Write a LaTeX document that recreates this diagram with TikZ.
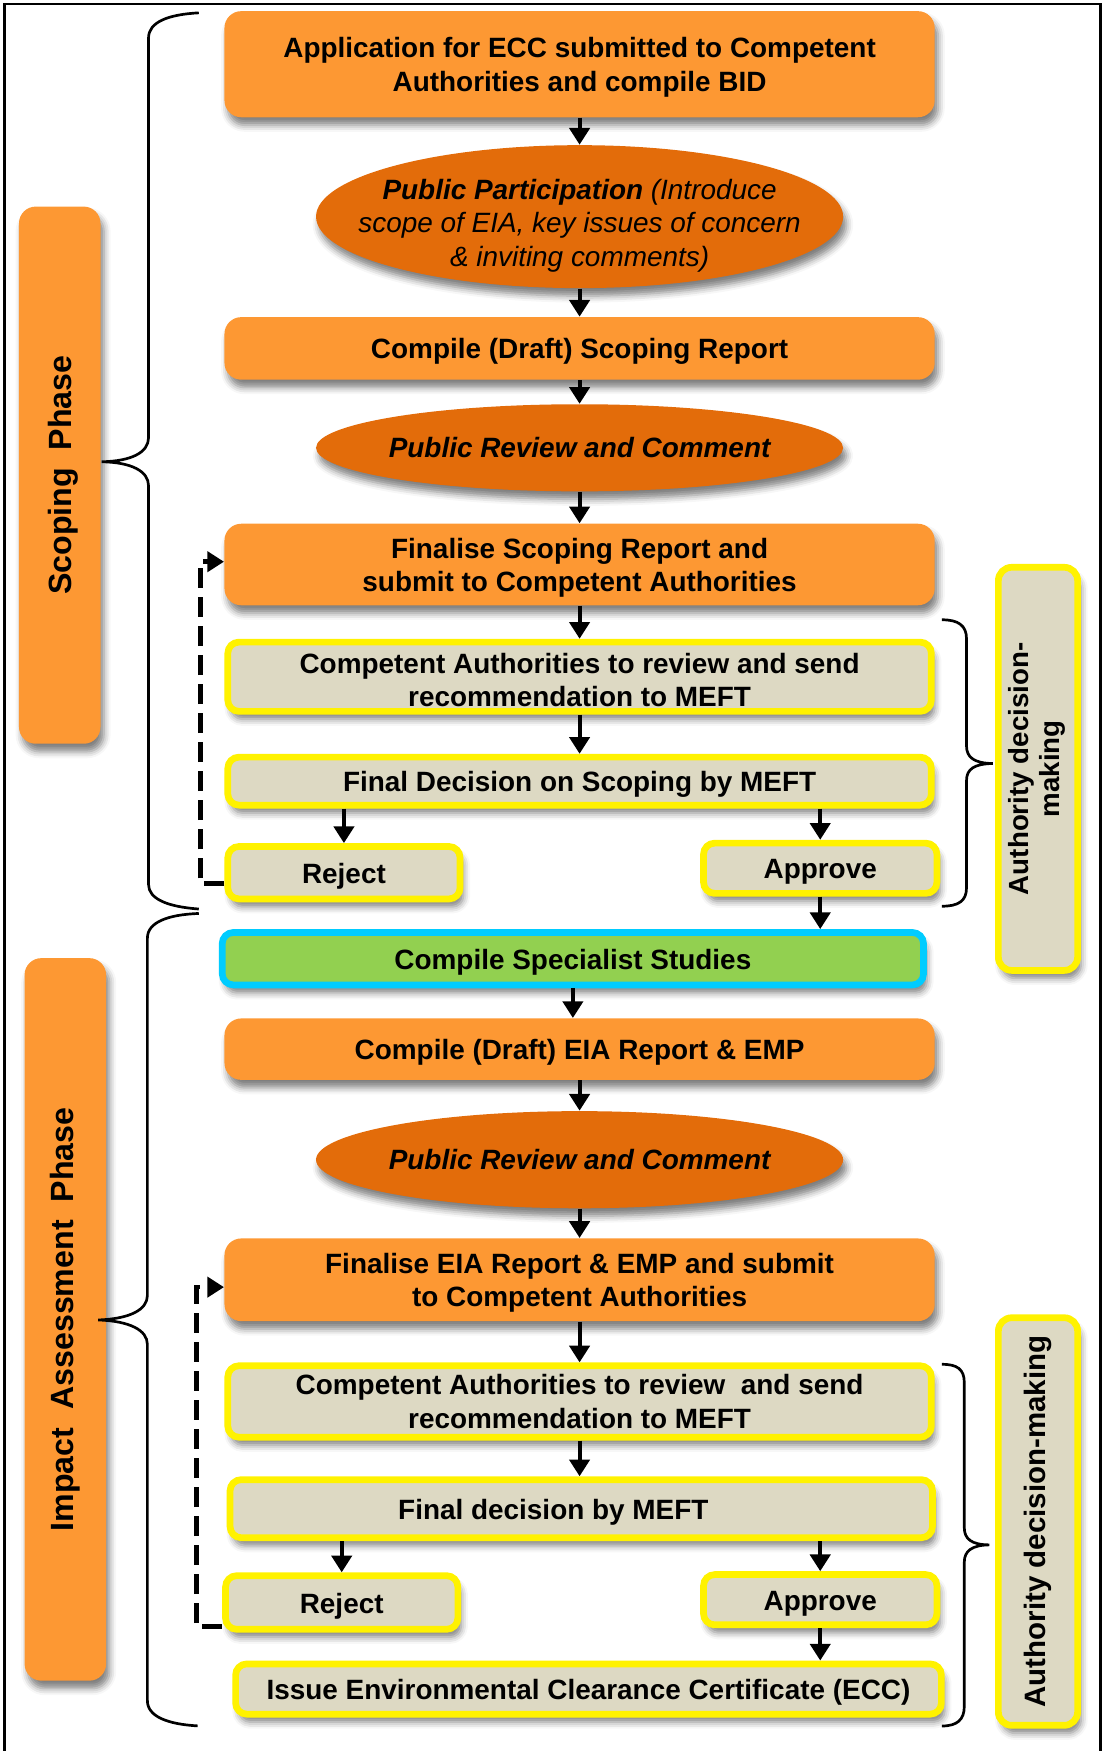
\documentclass[tikz,border=0pt]{standalone}
\usepackage{fontspec}
\setmainfont{Liberation Sans}
\usepackage{graphicx}
\usetikzlibrary{shapes.geometric,arrows.meta,shadows.blur}

\definecolor{boxorange}{RGB}{253,152,51}
\definecolor{ovalorange}{RGB}{227,108,10}
\definecolor{decisiongrey}{RGB}{221,217,195}
\definecolor{studygreen}{RGB}{146,208,80}
\definecolor{studycyan}{RGB}{0,204,255}

\begin{document}
\begin{tikzpicture}[x=0.5pt,y=-0.5pt,
    softshadow/.style={blur shadow={shadow xshift=1.5pt,shadow yshift=-3.5pt,shadow blur radius=3pt,shadow opacity=50}},
    boxfont/.style={font=\bfseries\fontsize{12.5}{15}\selectfont,execute at begin node={\rule{0pt}{12pt}}},
    twoline/.style={execute at begin node={\rule{0pt}{26.8pt}}},
    orangebox/.style={rectangle,rounded corners=7.5pt,fill=boxorange,softshadow,minimum width=318pt,inner sep=2pt,align=center,boxfont},
    orangeoval/.style={ellipse,fill=ovalorange,softshadow,minimum width=236pt,inner sep=0pt},
    ovaltext/.style={align=center,font=\itshape\fontsize{12.5}{15}\selectfont},
    greybox/.style={rectangle,rounded corners=5pt,fill=decisiongrey,draw=yellow,line width=3pt,softshadow,inner sep=2pt,align=center,boxfont},
    phasebar/.style={rectangle,rounded corners=7.5pt,fill=boxorange,softshadow,minimum width=36.5pt,inner sep=0pt,font=\bfseries\fontsize{14.4}{16}\selectfont},
    authbar/.style={rectangle,rounded corners=6pt,fill=decisiongrey,draw=yellow,line width=3pt,softshadow,minimum width=35.5pt,inner sep=0pt},
    arr/.style={-{Triangle[width=9pt,length=7.5pt]},line width=1.8pt},
    backarr/.style={arr,line width=2pt,dash pattern=on 9pt off 4pt},
    bracelines/.style={line width=1.2pt}]

    \useasboundingbox (0,0) rectangle (987,1568);
    % frame
    \draw[line width=1.2pt] (4.2,1570) -- (4.2,3.6) -- (985.2,3.6) -- (985.2,1570);

    % Scoping phase
    \node[orangebox,twoline,minimum height=47.5pt] (b1) at (519,57.5) {Application for ECC submitted to Competent\\Authorities and compile BID};
    \node[orangeoval,minimum height=64pt] (e1) at (519,194) {};
    \node[ovaltext] (e1text) at ([yshift=-4pt]e1.center) {\textbf{Public Participation} (Introduce\\scope of EIA, key issues of concern\\\& inviting comments)};
    \node[orangebox,minimum height=28pt] (b2) at (519,312) {Compile (Draft) Scoping Report};
    \node[orangeoval,minimum height=39pt] (e2) at (519,401) {};
    \node[ovaltext,font=\bfseries\itshape\fontsize{12.5}{15}\selectfont] (e2text) at (e2) {Public Review and Comment};
    \node[orangebox,twoline,minimum height=36.5pt] (b3) at (519,505.5) {Finalise Scoping Report and\\submit to Competent Authorities};
    \node[greybox,twoline,minimum width=315pt,minimum height=31pt] (g1) at (519,606) {Competent Authorities to review and send\\recommendation to MEFT};
    \node[greybox,minimum width=315pt,minimum height=21.5pt] (g2) at (519,699.5) {Final Decision on Scoping by MEFT};
    \node[greybox,minimum width=104pt,minimum height=23.5pt] (rej1) at (308,781.5) {Reject};
    \node[greybox,minimum width=104.5pt,minimum height=22.5pt] (app1) at (734.5,777.5) {Approve};

    % Impact assessment phase
    \node[greybox,draw=studycyan,fill=studygreen,minimum width=314pt,minimum height=23.5pt] (green) at (513,858.5) {Compile Specialist Studies};
    \node[orangebox,minimum height=27.5pt] (b4) at (519,939.5) {Compile (Draft) EIA Report \& EMP};
    \node[orangeoval,minimum height=43.5pt] (e3) at (519,1038.5) {};
    \node[ovaltext,font=\bfseries\itshape\fontsize{12.5}{15}\selectfont] (e3text) at (e3) {Public Review and Comment};
    \node[orangebox,twoline,minimum height=37pt] (b5) at (519,1146) {Finalise EIA Report \& EMP and submit\\to Competent Authorities};
    \node[greybox,minimum width=315pt,minimum height=32pt] (g3) at (519,1255) {Competent Authorities to review~ and send\\recommendation to MEFT};
    \node[greybox,minimum width=314.5pt,minimum height=26pt] (g4) at (520.5,1351) {Final decision by MEFT\hspace*{25pt}};
    \node[greybox,minimum width=104pt,minimum height=24pt] (rej2) at (306,1435) {Reject};
    \node[greybox,minimum width=104.5pt,minimum height=22.5pt] (app2) at (734.5,1432.5) {Approve};
    \node[greybox,minimum width=316pt,minimum height=22.5pt] (issue) at (527,1512.5) {Issue Environmental Clearance Certificate (ECC)};

    % side bars
    \node[phasebar,minimum height=240.5pt] (scoping) at (53.5,425.5) {\hspace*{3pt}\rotatebox{90}{Scoping~~Phase}};
    \node[phasebar,minimum height=323.5pt] (impact) at (58.5,1181.5) {\rotatebox{90}{Impact~~Assessment~~Phase}};
    \node[authbar,minimum height=180.5pt,font=\bfseries\fontsize{12.4}{14}\selectfont] (auth1) at (929.5,688.5) {\rotatebox{90}{\begin{tabular}{@{}c@{}}Authority decision-\\making\end{tabular}}};
    \node[authbar,minimum height=182.5pt,font=\bfseries\fontsize{13.2}{15}\selectfont] (auth2) at (929.5,1362.5) {\rotatebox{90}{Authority decision-making}};

    % flow
    \draw[arr] (b1) -- (e1);
    \draw[arr] (e1) -- (b2);
    \draw[arr] (b2) -- (e2);
    \draw[arr] (e2) -- (b3);
    \draw[arr] (b3) -- (g1);
    \draw[arr] (g1) -- (g2);
    \draw[arr] (g2.south -| rej1) -- (rej1);
    \draw[arr] (g2.south -| app1) -- (app1);
    \draw[arr] (app1) -- (app1 |- green.north);
    \draw[arr] (green) -- (green |- b4.north);
    \draw[arr] (b4) -- (e3);
    \draw[arr] (e3) -- (b5);
    \draw[arr] (b5) -- (g3);
    \draw[arr] (g3) -- (g3 |- g4.north);
    \draw[arr] (g4.south -| rej2) -- (rej2);
    \draw[arr] (g4.south -| app2) -- (app2);
    \draw[arr] (app2) -- (app2 |- issue.north);

    % loops back after reject
    \coordinate (back1) at (179.5,791);
    \coordinate (back2) at (176,1456.5);
    \draw[backarr] (rej1.west |- back1) -- (back1) |- ([yshift=1.25pt]b3.west);
    \draw[backarr] (rej2.west |- back2) -- (back2) |- ([yshift=-3.3pt]b5.west);

    % braces
    \draw[bracelines] (178,11.5) .. controls (150,13) and (133,20) .. (133,34) -- (133,392)
        .. controls (133,405) and (118,413) .. (91,413.5) .. controls (118,414) and (133,422) .. (133,435)
        -- (133,792) .. controls (133,805) and (150,812) .. (178,814);
    \draw[bracelines] (178,818) .. controls (150,819) and (132,826) .. (132,840) -- (132,1160)
        .. controls (132,1173) and (116,1181) .. (88,1182) .. controls (116,1183) and (132,1191) .. (132,1204)
        -- (132,1523) .. controls (132,1537) and (150,1544) .. (177,1545.5);
    \draw[bracelines] (843.5,555) .. controls (858,555) and (865.5,560) .. (865.5,572) -- (865.5,668)
        .. controls (865.5,678) and (872,683.5) .. (889,683.7) .. controls (872,684) and (865.5,689) .. (865.5,699)
        -- (865.5,795) .. controls (865.5,807) and (858,811.5) .. (843.5,811.5);
    \draw[bracelines] (843.5,1221.7) .. controls (857,1221.7) and (863.5,1226) .. (863.5,1238) -- (863.5,1368)
        .. controls (863.5,1378) and (870,1383.4) .. (886,1383.4) .. controls (870,1383.6) and (863.5,1389) .. (863.5,1399)
        -- (863.5,1528) .. controls (863.5,1540) and (857,1545.6) .. (843.5,1545.6);

\end{tikzpicture}
\end{document}
